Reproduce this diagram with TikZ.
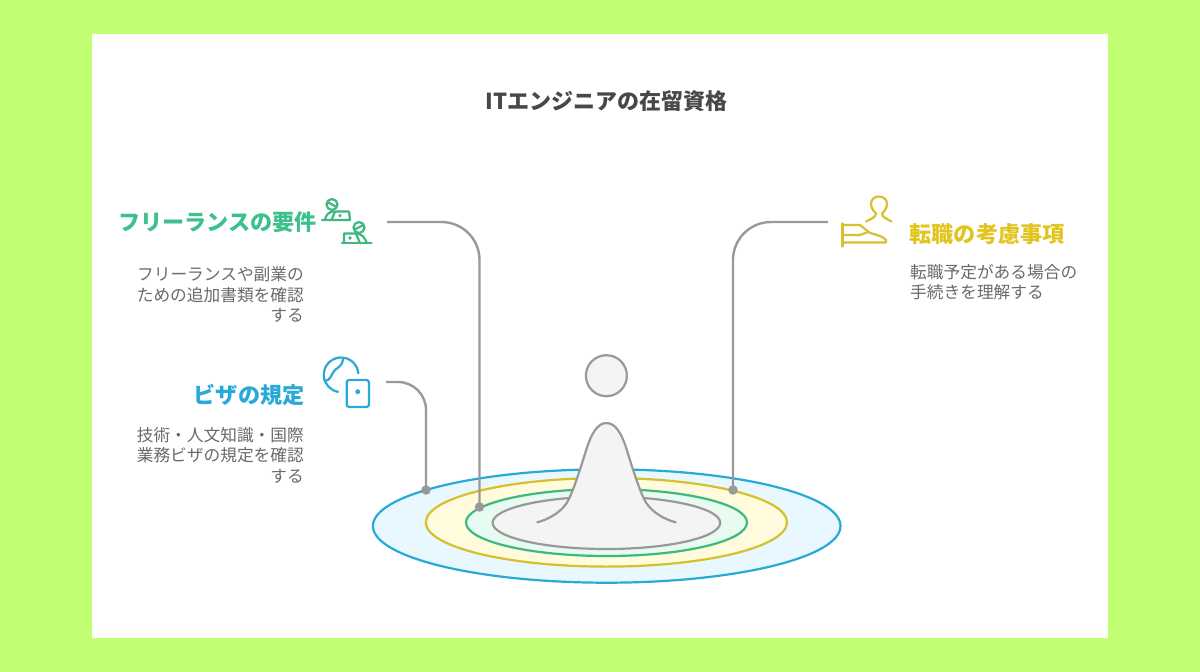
\documentclass[tikz,border=0pt]{standalone}
\usepackage{fontspec}
\setmainfont{Noto Sans CJK JP}
\definecolor{bgc}{HTML}{C1FF72}
\definecolor{bluec}{HTML}{29A9D6}
\definecolor{bluef}{HTML}{E8F8FE}
\definecolor{yelc}{HTML}{D6C02E}
\definecolor{yelf}{HTML}{FFFBDC}
\definecolor{yeltext}{HTML}{E2C41F}
\definecolor{grnc}{HTML}{3DB87F}
\definecolor{grnf}{HTML}{E8FBF1}
\definecolor{grntext}{HTML}{3CC08C}
\definecolor{greyc}{HTML}{999999}
\definecolor{greyf}{HTML}{F4F4F4}
\definecolor{bodyc}{HTML}{6A6A6A}
\definecolor{titlec}{HTML}{484848}
\tikzset{
  ring/.style={line width=2.2pt},
  conn/.style={draw=greyc,line width=2.4pt},
  enddot/.style={circle,fill=greyc,inner sep=0pt,minimum size=9.5pt},
  titletext/.style={inner sep=0pt,text=titlec,font=\bfseries\fontsize{22}{26}\selectfont},
  headtext/.style={inner sep=0pt,font=\bfseries\fontsize{22.1}{26}\selectfont},
  bodyr/.style={inner sep=0pt,align=right,anchor=north east,text=bodyc,font=\fontsize{16.7}{20.5}\selectfont},
  bodyl/.style={inner sep=0pt,align=left,anchor=north west,text=bodyc,font=\fontsize{16.7}{20.5}\selectfont},
  icongreen/.style={draw=grnc,line width=2.2pt,line cap=round,line join=round},
  iconblue/.style={draw=bluec,line width=2.2pt,line cap=round,line join=round},
  iconyel/.style={draw=yelc,line width=2.2pt,line cap=round,line join=round},
}
\begin{document}
\begin{tikzpicture}[x=1pt,y=-1pt]
\useasboundingbox (0,0) rectangle (1200,672);
\fill[bgc] (0,0) rectangle (1200,672);
\fill[white] (92,34) rectangle (1108,638);

% rings
\draw[ring,draw=bluec,fill=bluef] (606.7,526) ellipse [x radius=233.8,y radius=56.7];
\draw[ring,draw=yelc,fill=yelf] (606.4,522.3) ellipse [x radius=180.6,y radius=44.3];
\draw[ring,draw=grnc,fill=grnf] (606.5,522.5) ellipse [x radius=140.5,y radius=33.5];
\draw[ring,draw=greyc,fill=greyf] (606.4,522.8) ellipse [x radius=113.8,y radius=26.2];

% figure
\draw[ring,draw=greyc,fill=greyf] (606.4,375.7) circle [radius=20.5];
\fill[greyf] (537.3,522.3) .. controls (548,519.5) and (560,513) .. (566.7,503)
  .. controls (572,495) and (580,470) .. (586.7,448.3)
  .. controls (591,435) and (597,423) .. (606.5,423)
  .. controls (616,423) and (622,435) .. (626.3,448.3)
  .. controls (633,470) and (641,495) .. (646.3,503)
  .. controls (653,513) and (665,519.5) .. (675.7,522.3) -- cycle;
\draw[ring,draw=greyc,line cap=round] (537.3,522.3) .. controls (548,519.5) and (560,513) .. (566.7,503)
  .. controls (572,495) and (580,470) .. (586.7,448.3)
  .. controls (591,435) and (597,423) .. (606.5,423)
  .. controls (616,423) and (622,435) .. (626.3,448.3)
  .. controls (633,470) and (641,495) .. (646.3,503)
  .. controls (653,513) and (665,519.5) .. (675.7,522.3);

% connectors
\coordinate (freeS) at (387,222);
\coordinate (visaS) at (386,382);
\coordinate (jobS) at (828,222);
\node[enddot] (freeE) at (479.5,507) {};
\node[enddot] (visaE) at (426,490) {};
\node[enddot] (jobE) at (733,490) {};
\draw[conn,rounded corners=38pt] (freeS) -| (freeE.center);
\draw[conn,rounded corners=28pt] (visaS) -| (visaE.center);
\draw[conn,rounded corners=38pt] (jobS) -| (jobE.center);

% texts
\node[titletext] (title) at (606.5,101) {ITエンジニアの在留資格};
\node[headtext,text=grntext,anchor=east] (freeH) at (317,222) {フリーランスの要件};
\node[bodyr] (freeB) at (304,266.5) {フリーランスや副業の\\ための追加書類を確認\\する};
\node[headtext,text=bluec,anchor=east] (visaH) at (304.5,395) {ビザの規定};
\node[bodyr] (visaB) at (304,427) {技術・人文知識・国際\\業務ビザの規定を確認\\する};
\node[headtext,text=yeltext,anchor=west] (jobH) at (909.5,234.5) {転職の考慮事項};
\node[bodyl] (jobB) at (910,264) {転職予定がある場合の\\手続きを理解する};

% icon: people with laptops
\draw[icongreen] (332,204.5) circle [radius=5.5];
\draw[icongreen] (327.5,202) -- (336.5,207);
\draw[icongreen] (322,220) -- (350,220) -- (349,211.5) -- (335,211.5) -- (331.5,220);
\draw[icongreen] (325,220) .. controls (326,215) and (328,212.5) .. (333,211.5);
\fill[grnc] (340,215.7) circle [radius=1.8];
\draw[icongreen] (359,227.5) circle [radius=5.5];
\draw[icongreen] (354.5,229.5) -- (363.5,225);
\draw[icongreen] (342,243.3) -- (371.5,243.3);
\draw[icongreen] (344,243.3) -- (344,233.5) -- (356,233.5) -- (360,243.3);
\draw[icongreen] (356,233.5) .. controls (362,233.5) and (365,238) .. (367,243.3);
\fill[grnc] (350,238) circle [radius=1.8];

% icon: globe and passport
\draw[iconblue] (358.3,373.3) arc [start angle=-5,end angle=-260,x radius=17.3,y radius=17.3];
\draw[iconblue] (343,359) .. controls (343,365) and (338,367.5) .. (335,370) .. controls (331,373.5) and (331.5,380.7) .. (324.5,380.7);
\draw[iconblue,rounded corners=2.5pt] (346.7,380) rectangle (369,407);
\draw[iconblue] (357.7,391.7) circle [radius=1.6];

% icon: hand and person
\draw[iconyel] (866,221.5) .. controls (871,219) and (876,217) .. (876,213.5)
  .. controls (872,210) and (871,206) .. (871,204) .. controls (871,199) and (875,196.5) .. (879,196.5)
  .. controls (883,196.5) and (887,199) .. (887,204) .. controls (887,206) and (886,210) .. (882,213.5)
  .. controls (882,217) and (887,219) .. (891.5,221.5);
\draw[iconyel] (842.5,223.5) -- (842.5,246.5);
\draw[iconyel] (842.5,225) -- (860,225) -- (870,233) .. controls (878,235) and (884,237) .. (886,240) -- (886,242.5) -- (842.5,242.5);
\draw[iconyel] (842.5,235) -- (860,235) -- (868,232);
\end{tikzpicture}
\end{document}
